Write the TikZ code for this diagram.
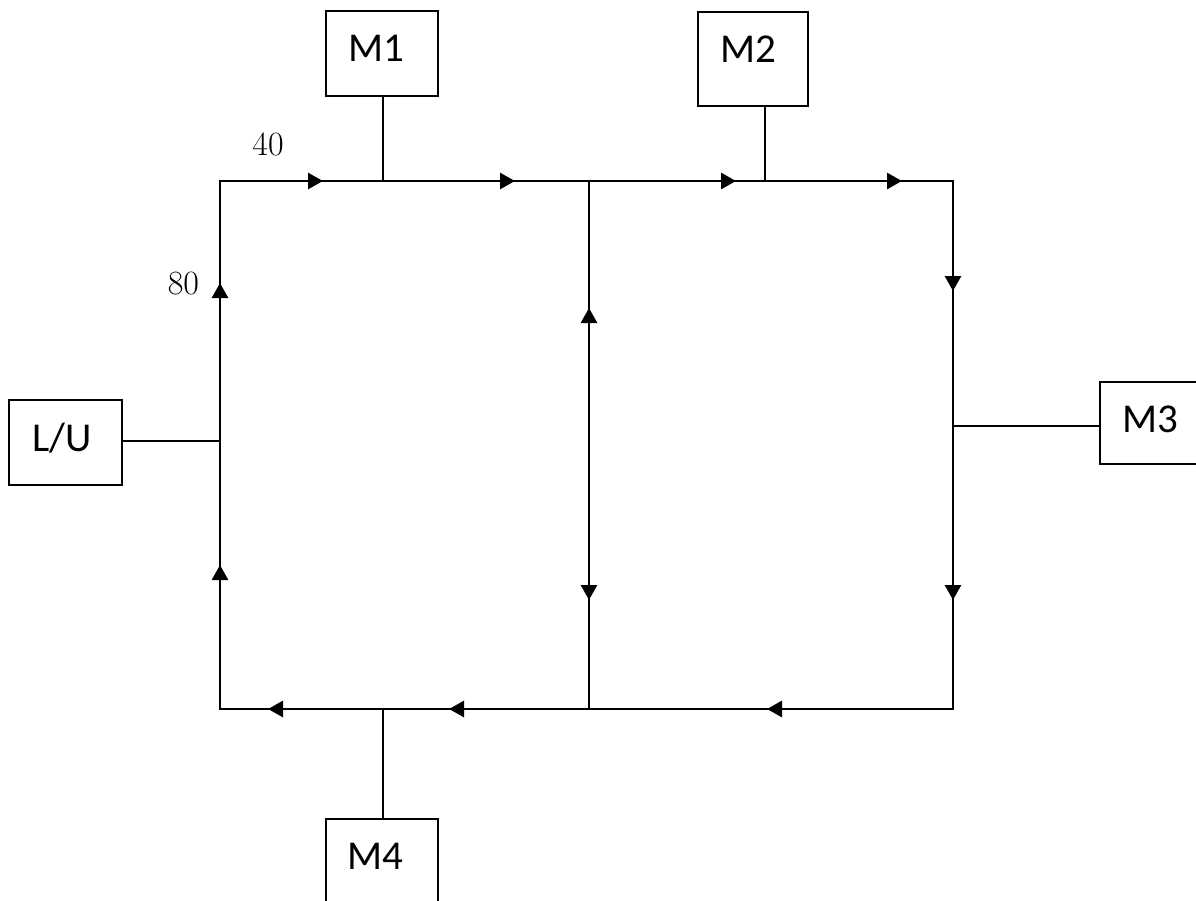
\documentclass[tikz,border=0pt]{standalone}
\usepackage{fontspec}
\newfontfamily\boxfont{Carlito}
\usetikzlibrary{arrows.meta}
\begin{document}
\begin{tikzpicture}[x=0.5pt,y=-0.5pt,
  box/.style={draw, line width=1pt, rectangle, inner sep=0pt, anchor=north west},
  lbl/.style={inner sep=0pt, anchor=north west, font=\boxfont\fontsize{20.5pt}{24pt}\selectfont},
  num/.style={inner sep=0pt, font=\fontsize{17pt}{20pt}\selectfont},
  conn/.style={line width=0.9pt},
  flow/.style={line width=1.4pt, -{Triangle[length=7.5pt,width=8pt]}}]
\useasboundingbox (0,0) rectangle (1196,901);
\clip (0,0) rectangle (1196,901);
% boxes
\node[box, minimum width=56pt, minimum height=42.5pt] (M1) at (325,10) {};
\node[box, minimum width=55pt, minimum height=47pt] (M2) at (697,11) {};
\node[box, minimum width=56.5pt, minimum height=42.5pt] (LU) at (8,399) {};
\node[box, minimum width=55pt, minimum height=41pt] (M3) at (1099,381) {};
\node[box, minimum width=56pt, minimum height=45pt] (M4) at (325,818) {};
\node[lbl] (tM1) at ([shift={(23,25)}]M1.north west) {M1};
\node[lbl] (tM2) at ([shift={(23,24)}]M2.north west) {M2};
\node[lbl] (tLU) at ([shift={(24,24)}]LU.north west) {L/U};
\node[lbl] (tM3) at ([shift={(23,24)}]M3.north west) {M3};
\node[lbl] (tM4) at ([shift={(22,25)}]M4.north west) {M4};
% loop
\coordinate (tl) at (220,181);
\coordinate (br) at (953,709);
\coordinate (mt) at (589,181);
\coordinate (mb) at (589,709);
\draw[conn] (tl) rectangle (br);
\draw[conn] (mt) -- (mb);
% junctions
\coordinate (a1) at (383,181);
\coordinate (a2) at (765,181);
\coordinate (a0) at (220,441);
\coordinate (a3) at (953,426);
\coordinate (a4) at (383,709);
\draw[conn] (M1.south -| a1) -- (a1);
\draw[conn] (M2.south -| a2) -- (a2);
\draw[conn] (LU.east |- a0) -- (a0);
\draw[conn] (a3) -- (M3.west |- a3);
\draw[conn] (a4) -- (M4.north -| a4);
% flow arrows
\draw[flow] (267,181) -- (323,181);
\draw[flow] (436,181) -- (515,181);
\draw[flow] (664,181) -- (736,181);
\draw[flow] (856,181) -- (902,181);
\draw[flow] (220,360) -- (220,283);
\draw[flow] (220,642) -- (220,565);
\draw[flow] (589,398) -- (589,308);
\draw[flow] (589,528) -- (589,600);
\draw[flow] (953,240) -- (953,291);
\draw[flow] (953,518) -- (953,600);
\draw[flow] (342,709) -- (268,709);
\draw[flow] (529,709) -- (449,709);
\draw[flow] (873,709) -- (767,709);
% labels
\node[num] (n40) at (268,144) {40};
\node[num] (n80) at (183.5,284) {80};
\end{tikzpicture}
\end{document}
